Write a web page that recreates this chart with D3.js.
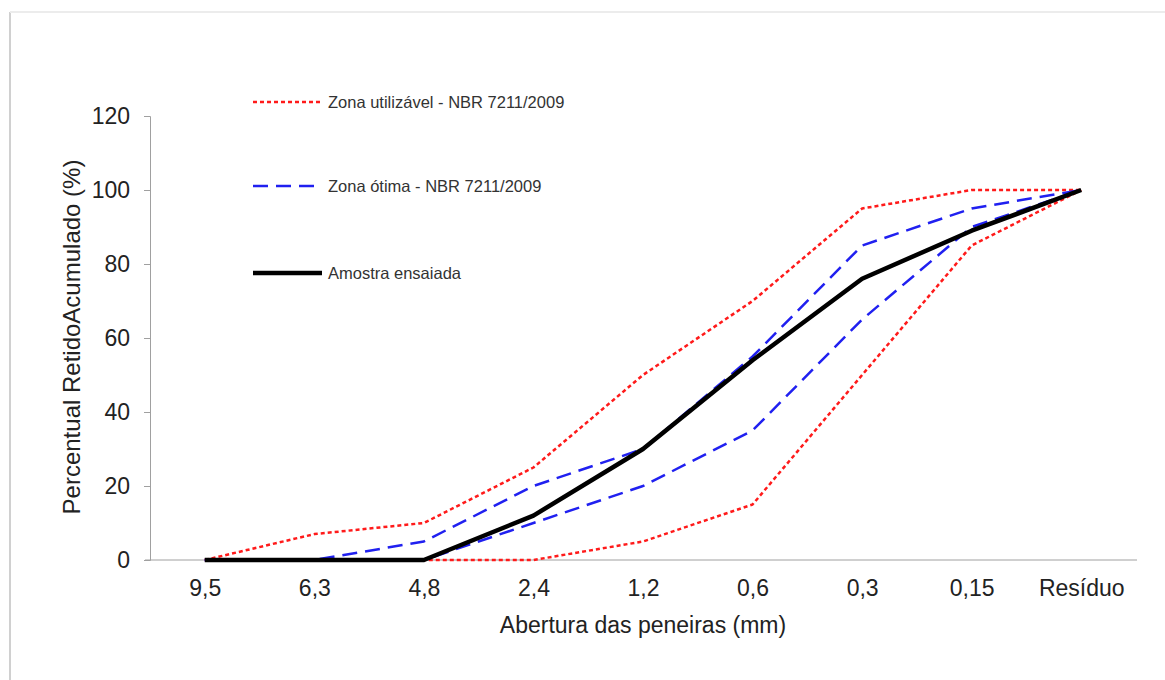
<!DOCTYPE html>
<html>
<head>
<meta charset="utf-8">
<script src="https://cdn.jsdelivr.net/npm/d3@7"></script>
<style>
  body { margin: 0; background: #fff; }
  svg text { font-family: "Liberation Sans", Arial, sans-serif; }
</style>
</head>
<body>
<svg id="chart" width="1165" height="680"></svg>
<script>
// sieve openings (categories)
var sieves = ["9,5", "6,3", "4,8", "2,4", "1,2", "0,6", "0,3", "0,15", "Resíduo"];

// NBR 7211/2009 usable zone (upper / lower limits)
var usableUpper = [0, 7, 10, 25, 50, 70, 95, 100, 100];
var usableLower = [0, 0, 0, 0, 5, 15, 50, 85, 100];

// NBR 7211/2009 optimal zone
var optimalUpper = [0, 0, 5, 20, 30, 55, 85, 95, 100];
var optimalLower = [0, 0, 0, 10, 20, 35, 65, 90, 100];

// tested sample
var sample = [0, 0, 0, 12, 30, 54, 76, 89, 100];

var yTicks = [0, 20, 40, 60, 80, 100, 120];

var svg = d3.select("#chart");

// soft frame around the picture
svg.append("line").attr("x1", 10).attr("y1", 12).attr("x2", 10).attr("y2", 680)
    .attr("stroke", "#d0d0d0").attr("stroke-width", 2);
svg.append("line").attr("x1", 10).attr("y1", 12).attr("x2", 1165).attr("y2", 12)
    .attr("stroke", "#ececec").attr("stroke-width", 2);

var x = d3.scalePoint().domain(sieves).range([150, 1136]).padding(0.5);
var y = d3.scaleLinear().domain([0, 120]).range([560, 116]);

// y axis
var yAxis = svg.append("g").attr("transform", "translate(150,0)")
    .call(d3.axisLeft(y).tickValues(yTicks).tickSize(6).tickPadding(14));
yAxis.select(".domain").attr("stroke", "#a0a0a0");
yAxis.selectAll(".tick line").attr("stroke", "#a0a0a0");
yAxis.selectAll(".tick text").style("font-size", "23px").attr("fill", "#222");

// x axis (just a line + labels)
var xAxis = svg.append("g").attr("transform", "translate(0,560)")
    .call(d3.axisBottom(x).tickSize(0).tickPadding(20));
xAxis.select(".domain").attr("d", "M145,0H1137").attr("stroke", "#a0a0a0");
xAxis.selectAll(".tick text").style("font-size", "23px").attr("fill", "#222");

svg.append("text")
    .attr("x", 643).attr("y", 633)
    .attr("text-anchor", "middle")
    .style("font-size", "23px").attr("fill", "#222")
    .text("Abertura das peneiras (mm)");

svg.append("text")
    .attr("transform", "translate(80,337) rotate(-90)")
    .attr("text-anchor", "middle")
    .style("font-size", "24px").attr("fill", "#222")
    .text("Percentual RetidoAcumulado (%)");

var line = d3.line()
    .x(function(d, i) { return x(sieves[i]); })
    .y(function(d) { return y(d); });

var styles = {
    usable: { stroke: "#ff1a1a", width: 2.5, dash: "4,3" },
    optimal: { stroke: "#2020f0", width: 2.5, dash: "15,8" },
    sample: { stroke: "#000", width: 4.5, dash: null }
};

function drawSeries(values, st) {
    svg.append("path")
        .datum(values)
        .attr("d", line)
        .attr("fill", "none")
        .attr("stroke", st.stroke)
        .attr("stroke-width", st.width)
        .attr("stroke-dasharray", st.dash)
        .attr("stroke-linejoin", "round");
}

drawSeries(usableUpper, styles.usable);
drawSeries(usableLower, styles.usable);
drawSeries(optimalUpper, styles.optimal);
drawSeries(optimalLower, styles.optimal);
drawSeries(sample, styles.sample);

// legend
var legend = [
    { label: "Zona utilizável - NBR 7211/2009", st: styles.usable, y: 102 },
    { label: "Zona ótima - NBR 7211/2009", st: styles.optimal, y: 186 },
    { label: "Amostra ensaiada", st: styles.sample, y: 273 }
];
legend.forEach(function(l) {
    svg.append("line")
        .attr("x1", 253).attr("x2", 322).attr("y1", l.y).attr("y2", l.y)
        .attr("stroke", l.st.stroke)
        .attr("stroke-width", l.st.width)
        .attr("stroke-dasharray", l.st.dash);
    svg.append("text")
        .attr("x", 328).attr("y", l.y + 6)
        .style("font-size", "16.5px").attr("fill", "#333")
        .text(l.label);
});
</script>
</body>
</html>
